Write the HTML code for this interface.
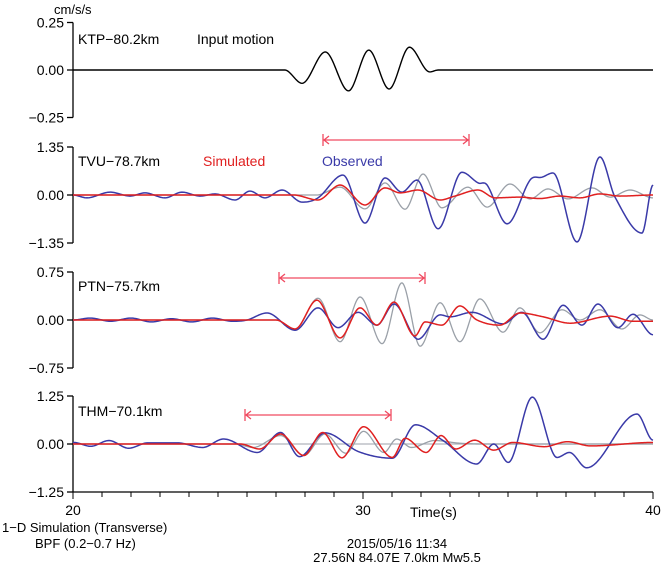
<!DOCTYPE html>
<html><head><meta charset="utf-8"><style>
body{margin:0;background:#fff}
svg{display:block;font-family:"Liberation Sans",sans-serif}
</style></head><body>
<svg id="c" width="662" height="565" viewBox="0 0 662 565">
<g id="axes"></g><g id="traces"></g>
<text x="54" y="14" font-size="13">cm/s/s</text>
<text x="78" y="44" font-size="14">KTP−80.2km</text>
<text x="197" y="44" font-size="14">Input motion</text>
<text x="78" y="166" font-size="14">TVU−78.7km</text>
<text x="203" y="166" font-size="14" fill="#e02020">Simulated</text>
<text x="322" y="166" font-size="14" fill="#3a3aa8">Observed</text>
<text x="78" y="291" font-size="14">PTN−75.7km</text>
<text x="78" y="416" font-size="14">THM−70.1km</text>
<text x="410" y="517" font-size="14">Time(s)</text>
<text x="2" y="532" font-size="13">1−D Simulation (Transverse)</text>
<text x="35" y="548" font-size="13">BPF (0.2−0.7 Hz)</text>
<text x="397" y="548" font-size="13" text-anchor="middle">2015/05/16 11:34</text>
<text x="397" y="562" font-size="13" text-anchor="middle">27.56N 84.07E 7.0km Mw5.5</text>
</svg>
<script>
const xTicks=[20,30,40];
const ktpT=[20,27.3,27.9,28.7,29.5,30.2,30.9,31.6,32.3,32.6,40];
const ktpV=[0,0,-0.07,0.095,-0.11,0.105,-0.1,0.12,-0.01,0,0];
const tvuObsT=[20,20.48,21.28,21.97,22.48,23.17,23.76,24.38,24.9,25.59,26.1,26.62,27.21,27.9,28.45,29.31,30.07,30.76,31.34,31.86,32.59,33.41,33.97,34.28,34.97,35.76,36.17,36.55,37.38,38.17,38.69,39.62,40];
const tvuObsV=[0,-0.08,0.08,-0.03,0.06,-0.08,0.08,-0.03,0.03,-0.14,0.11,-0.08,0.14,-0.2,-0.08,0.56,-0.79,0.48,0.08,0.42,-0.95,0.64,0.34,0.28,-0.81,0.42,0.5,0.62,-1.32,1.07,-0.06,-1.07,0.28];
const tvuSimT=[20,27.6,28.45,29.21,30.07,30.76,31.28,31.9,32.66,33.17,33.97,34.55,35.41,36.1,36.79,37.48,38.17,38.86,40];
const tvuSimV=[0,0,-0.14,0.28,-0.28,0.2,0.06,0.14,-0.14,-0.03,0.14,-0.08,-0.06,-0.1,-0.03,-0.08,0.03,-0.03,0];
const tvuLinT=[20,28.4,29.21,30.07,30.76,31.45,32.07,32.72,33.62,34.28,35.07,35.76,36.38,37.07,37.9,38.52,39.21,40];
const tvuLinV=[0,0,0.22,-0.39,0.34,-0.4,0.59,-0.36,0.22,-0.34,0.31,-0.11,0.17,-0.11,0.2,-0.06,0.14,-0.08];
const ptnObsT=[20,20.6,21.3,22,22.7,23.4,24.1,24.8,25.5,26.0,26.69,27.66,28.45,29.14,29.83,30.48,31.07,31.9,32.66,33.0,33.76,34.83,35.48,36.21,36.9,37.55,38.1,38.79,39.31,40];
const ptnObsV=[0,0.03,-0.02,0.03,-0.03,0.02,-0.03,0.03,-0.02,0.0,0.11,-0.16,0.19,-0.12,0.12,-0.08,0.25,-0.3,0.08,0.05,0.12,-0.06,0.12,-0.3,0.23,-0.08,0.25,-0.12,0.09,-0.23];
const ptnSimT=[20,27.0,27.66,28.41,29.21,29.9,30.48,31.07,31.79,32.14,32.72,33.34,33.93,34.72,35.41,36.21,37.14,38.52,39.31,40];
const ptnSimV=[0,0,-0.14,0.31,-0.28,0.19,-0.08,0.28,-0.25,-0.03,-0.08,0.22,0,-0.08,0.11,0.05,-0.05,0.06,-0.02,-0.02];
const ptnLinT=[20,27.0,27.66,28.45,29.21,29.9,30.66,31.34,31.97,32.66,33.34,34.03,34.83,35.41,36.1,36.86,37.48,38.17,38.93,39.55,40];
const ptnLinV=[0,0,-0.14,0.34,-0.34,0.36,-0.37,0.58,-0.41,0.27,-0.34,0.33,-0.19,0.19,-0.2,0.16,0,0.16,-0.14,0.08,0];
const thmObsT=[20,20.03,20.61,21.24,21.92,22.58,23.59,24.47,25.19,26.36,27.16,27.81,28.69,29.85,31.01,31.81,32.76,33.92,34.51,35.01,35.84,36.69,37.12,37.71,39.45,40];
const thmObsV=[0.04,0.04,-0.06,0.09,-0.11,0.03,0.03,-0.09,0.13,-0.22,0.3,-0.33,0.29,-0.2,-0.37,0.5,0.09,-0.52,0,-0.48,1.22,-0.35,-0.22,-0.62,0.78,0.1];
const thmSimT=[20,25.78,26.43,27.16,27.96,28.61,29.27,30.02,31.01,31.45,32.18,32.69,33.2,33.85,34.51,35.16,36.25,37.05,37.85,40];
const thmSimV=[0,0,-0.13,0.26,-0.3,0.3,-0.36,0.45,-0.35,0.15,-0.22,0.22,-0.13,0.1,-0.16,0.04,-0.07,0.06,-0.05,0.04];
const thmLinT=[20,25.6,26.21,27.16,27.96,28.69,29.41,30.02,30.72,31.16,31.67,32.47,33.34,34.2,40];
const thmLinV=[0,0,-0.09,0.22,-0.3,0.26,-0.24,0.33,-0.22,0.13,-0.09,0.09,0.02,0,0];

const NS="http://www.w3.org/2000/svg";
const X0=73,X1=653,T0=20,T1=40;
function xs(t){return X0+(t-T0)/(T1-T0)*(X1-X0);}
const panels=[
 {zero:70,half:47.5,max:0.25,labels:["0.25","0.00","−0.25"],name:"ktp"},
 {zero:195,half:48,max:1.35,labels:["1.35","0.00","−1.35"],name:"tvu"},
 {zero:320,half:48,max:0.75,labels:["0.75","0.00","−0.75"],name:"ptn"},
 {zero:444,half:48,max:1.25,labels:["1.25","0.00","−1.25"],name:"thm"}];
function ys(p,v){return p.zero-v/p.max*p.half;}
const ax=document.getElementById('axes'),tr=document.getElementById('traces');
function mk(tag,at,parent){const e=document.createElementNS(NS,tag);for(const k in at)e.setAttribute(k,at[k]);parent.appendChild(e);return e;}
panels.forEach((p,i)=>{
 const g=mk('g',{},ax);
 
 
 mk('line',{x1:X0,x2:X0,y1:p.zero-p.half,y2:p.zero+p.half,stroke:'#000','stroke-width':1.3},g);
 [1,0,-1].forEach((s,j)=>{
  const y=p.zero-s*p.half;
  mk('line',{x1:X0-6,x2:X0,y1:y,y2:y,stroke:'#000','stroke-width':1.3},g);
  const t=mk('text',{x:X0-9,y:y+5,'font-size':14,'text-anchor':'end'},g);t.textContent=p.labels[j];
  
  
 });
});
const xg=mk('g',{},ax);


mk('line',{x1:X0,x2:X1,y1:492,y2:492,stroke:'#000','stroke-width':1.3},xg);
for(let t=T0;t<=T1;t++){mk('line',{x1:xs(t),x2:xs(t),y1:492,y2:t%10==0?499:497,stroke:'#000','stroke-width':1},xg);}
xTicks.forEach(t=>{const e=mk('text',{x:xs(t),y:515,'font-size':14,'text-anchor':'middle'},xg);e.textContent=t;
 
 });
function interp(T,V,t){
 let i=0;while(i<T.length-2&&t>T[i+1])i++;
 const t0=T[i],t1=T[i+1],v0=V[i],v1=V[i+1];
 function slope(k){if(k<=0||k>=T.length-1)return 0;const a=V[k-1],b=V[k],c=V[k+1];
  if((b-a)*(c-b)<=0)return 0;return (c-a)/(T[k+1]-T[k-1]);}
 const m0=slope(i),m1=slope(i+1),h=t1-t0,s=Math.min(1,Math.max(0,(t-t0)/h));
 const h00=2*s*s*s-3*s*s+1,h10=s*s*s-2*s*s+s,h01=-2*s*s*s+3*s*s,h11=s*s*s-s*s;
 return h00*v0+h10*h*m0+h01*v1+h11*h*m1;}
function trace(p,T,V,color,w,name){
 let d='';for(let x=X0;x<=X1;x+=1){const t=T0+(x-X0)/(X1-X0)*(T1-T0);d+=(x==X0?'M':'L')+x+','+ys(p,interp(T,V,t)).toFixed(2);}
 const e=mk('path',{d:d,fill:'none',stroke:color,'stroke-width':w},tr);
 
 }
trace(panels[0],ktpT,ktpV,'#000',1.4,'ktp-input-trace');
trace(panels[1],tvuLinT,tvuLinV,'#9aa0a8',1.3,'tvu-linear-trace');
trace(panels[1],tvuObsT,tvuObsV,'#3a3aa8',1.5,'tvu-observed-trace');
trace(panels[1],tvuSimT,tvuSimV,'#e02020',1.5,'tvu-simulated-trace');
trace(panels[2],ptnLinT,ptnLinV,'#9aa0a8',1.3,'ptn-linear-trace');
trace(panels[2],ptnObsT,ptnObsV,'#3a3aa8',1.5,'ptn-observed-trace');
trace(panels[2],ptnSimT,ptnSimV,'#e02020',1.5,'ptn-simulated-trace');
mk('line',{x1:X0,x2:X1,y1:444,y2:444,stroke:'#b0b4bc','stroke-width':1.2},tr);
trace(panels[3],thmLinT,thmLinV,'#9aa0a8',1.3,'thm-linear-trace');
trace(panels[3],thmObsT,thmObsV,'#3a3aa8',1.5,'thm-observed-trace');
trace(panels[3],thmSimT,thmSimV,'#e02020',1.5,'thm-simulated-trace');
[[323,469,140,'tvu'],[279,425,278,'ptn'],[245,391,415,'thm']].forEach(a=>{
 const g=mk('g',{stroke:'#f04a60','stroke-width':1.3,fill:'none'},tr);
 
 
 mk('line',{x1:a[0],x2:a[1],y1:a[2],y2:a[2]},g);
 mk('line',{x1:a[0],x2:a[0],y1:a[2]-6,y2:a[2]+6},g);
 mk('line',{x1:a[1],x2:a[1],y1:a[2]-6,y2:a[2]+6},g);
 mk('path',{d:`M${a[0]+6},${a[2]-4}L${a[0]+1},${a[2]}L${a[0]+6},${a[2]+4}M${a[1]-6},${a[2]-4}L${a[1]-1},${a[2]}L${a[1]-6},${a[2]+4}`},g);
});
</script>
</body></html>
